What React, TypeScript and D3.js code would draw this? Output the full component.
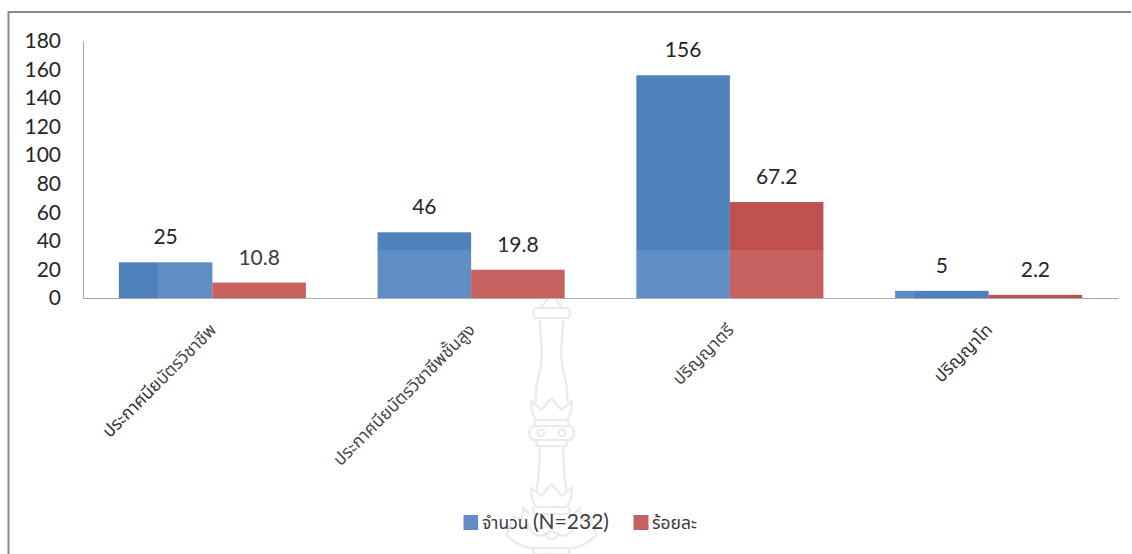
import { useEffect, useRef } from 'react';
import * as d3 from 'd3';

const categories = [
  'ประกาศนียบัตรวิชาชีพ',
  'ประกาศนียบัตรวิชาชีพชั้นสูง',
  'ปริญญาตรี',
  'ปริญญาโท',
];
const counts = [25, 46, 156, 5];
const percents = [10.8, 19.8, 67.2, 2.2];
const yTicks = [0, 20, 40, 60, 80, 100, 120, 140, 160, 180];

const WIDTH = 1132;
const HEIGHT = 554;
const PLOT = { left: 83, right: 1118, top: 41, bottom: 298 };
const BLUE = '#4f81bd';
const RED = '#c0504d';
const FONT = "Lato, 'Noto Sans Thai', 'Noto Sans', 'DejaVu Sans', sans-serif";

// watermark outline, one half only (mirrored round its centre line)
const WATERMARK = [
  'M0,293 L-7,303 L-11,308 M-17,308 H0 M-17,308 C-19,312 -19,314 -17,318 H0',
  'M-12,318 L-11,333 C-9,350 -9,360 -12,372 C-15,382 -16,390 -16,402',
  'M0,398 L-10,410 L-20,401 C-21,410 -18,418 -14,420 H0',
  'M-17,420 V426 H0 M-17,426 C-24,426 -24,440 -17,440 H0 M-14,433 a3.5,3.5 0 1,0 7,0 a3.5,3.5 0 1,0 -7,0',
  'M-15,440 V446 H0 M-12,446 C-11,465 -13,478 -15,492',
  'M0,484 L-10,496 L-20,488 C-21,497 -18,505 -14,507 H0 M-18,507 V514 H0',
  'M-22,514 L-28,508 L-30,520 L-38,516 L-45,535 C-35,545 -25,548 -20,548 H0',
  'M-24,524 C-20,536 -10,540 0,530 M-7,532 a7,7 0 0,0 7,7 M-18,548 V554 H0',
];

export default function App() {
  const svgRef = useRef<SVGSVGElement>(null);

  useEffect(() => {
    if (!svgRef.current) return;
    const svg = d3.select(svgRef.current);
    svg.selectAll('*').remove();

    const x0 = d3
      .scaleBand<string>()
      .domain(categories)
      .range([PLOT.left, PLOT.right])
      .paddingInner(0.277)
      .paddingOuter(0.1385);
    const x1 = d3
      .scaleBand<string>()
      .domain(['count', 'percent'])
      .range([0, x0.bandwidth()]);
    const y = d3.scaleLinear().domain([0, 180]).range([PLOT.bottom, PLOT.top]);

    // frame, cut off at the page edge
    svg
      .append('path')
      .attr('d', `M8.5,${HEIGHT} V12 H${WIDTH - 1}`)
      .attr('fill', 'none')
      .attr('stroke', '#8a8a8a')
      .attr('stroke-width', 2);

    // watermark
    const mark = svg
      .append('g')
      .attr('fill', 'none')
      .attr('stroke', '#e8e8e8')
      .attr('stroke-width', 2.2);
    [1, -1].forEach((side) => {
      mark
        .append('path')
        .attr('transform', `translate(551.5,0) scale(${side},1)`)
        .attr('d', WATERMARK.join(' '));
    });

    // bars
    const groups = svg
      .append('g')
      .selectAll('g')
      .data(categories)
      .enter()
      .append('g')
      .attr('transform', (d) => `translate(${x0(d)},0)`);

    groups
      .append('rect')
      .attr('x', x1('count')!)
      .attr('width', x1.bandwidth())
      .attr('y', (_, i) => y(counts[i]))
      .attr('height', (_, i) => y(0) - y(counts[i]))
      .attr('fill', BLUE);

    groups
      .append('rect')
      .attr('x', x1('percent')!)
      .attr('width', x1.bandwidth())
      .attr('y', (_, i) => y(percents[i]))
      .attr('height', (_, i) => y(0) - y(percents[i]))
      .attr('fill', RED);

    // value labels
    const labelStyle = (sel: d3.Selection<SVGTextElement, string, SVGGElement, unknown>) =>
      sel
        .attr('text-anchor', 'middle')
        .style('font-family', FONT)
        .style('font-size', '21px')
        .style('fill', '#262626');

    groups
      .append('text')
      .attr('x', x1('count')! + x1.bandwidth() / 2)
      .attr('y', (_, i) => y(counts[i]) - 18)
      .text((_, i) => String(counts[i]))
      .call(labelStyle);

    groups
      .append('text')
      .attr('x', x1('percent')! + x1.bandwidth() / 2)
      .attr('y', (_, i) => y(percents[i]) - 18)
      .text((_, i) => String(percents[i]))
      .call(labelStyle);

    // y axis
    const yAxis = svg
      .append('g')
      .attr('transform', `translate(${PLOT.left},0)`)
      .call(d3.axisLeft(y).tickValues(yTicks).tickSize(0).tickPadding(22).tickFormat(d3.format('d')));
    yAxis.select('.domain').attr('stroke', '#a6a6a6').attr('stroke-width', 1);
    yAxis
      .selectAll('text')
      .style('font-family', FONT)
      .style('font-size', '21px')
      .style('fill', '#262626');

    // x axis line and rotated labels
    const xAxis = svg
      .append('g')
      .attr('transform', `translate(0,${PLOT.bottom})`)
      .call(d3.axisBottom(x0).tickSize(0).tickPadding(0));
    xAxis.select('.domain').attr('stroke', '#a6a6a6').attr('stroke-width', 1.2);
    xAxis
      .selectAll('text')
      .attr('text-anchor', 'end')
      .attr('dy', 0)
      .attr('y', 0)
      .attr('transform', 'translate(5,33) rotate(-45)')
      .style('font-family', FONT)
      .style('font-size', '17.5px')
      .style('fill', '#333');

    // legend
    const legend = svg.append('g');
    legend.append('rect').attr('x', 463.5).attr('y', 515).attr('width', 14.5).attr('height', 15).attr('fill', BLUE);
    legend.append('rect').attr('x', 633.5).attr('y', 515).attr('width', 15).attr('height', 15).attr('fill', RED);
    const countLabel = legend
      .append('text')
      .attr('x', 482)
      .attr('y', 529)
      .style('font-family', FONT)
      .style('font-size', '17.5px')
      .style('fill', '#262626');
    countLabel.append('tspan').text('จำนวน ');
    countLabel.append('tspan').style('font-size', '21px').text('(N=232)');
    legend
      .append('text')
      .attr('x', 652)
      .attr('y', 529)
      .style('font-family', FONT)
      .style('font-size', '17.5px')
      .style('fill', '#262626')
      .text('ร้อยละ');

    // pale sheet lying over the lower middle of the page
    svg
      .append('rect')
      .attr('x', 158)
      .attr('y', 250)
      .attr('width', 756)
      .attr('height', HEIGHT - 250)
      .attr('fill', '#fff')
      .attr('opacity', 0.1);
  }, []);

  return (
    <svg
      ref={svgRef}
      width={WIDTH}
      height={HEIGHT}
      style={{ position: 'absolute', left: 0, top: 0, background: '#fff' }}
    />
  );
}
